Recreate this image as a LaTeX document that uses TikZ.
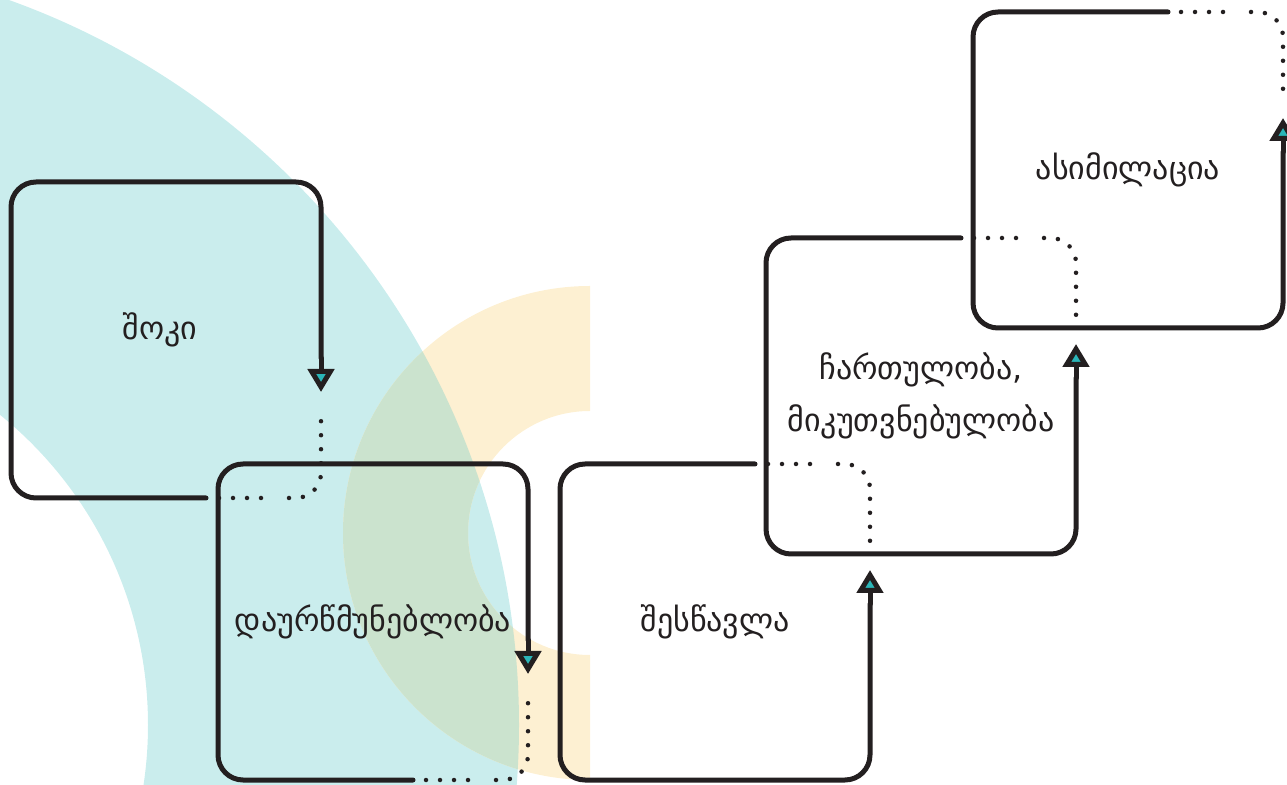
\documentclass[tikz,border=0pt]{standalone}
\usepackage{fontspec}
\newfontfamily\geofont{DejaVu Sans}
\usepackage{xcolor}
\definecolor{cInk}{HTML}{231F20}
\definecolor{cTeal}{HTML}{2BB5B8}
\definecolor{cMint}{HTML}{CAEDED}
\definecolor{cSand}{HTML}{FDF0D2}
\definecolor{cSage}{HTML}{CBE3CE}
\usepackage{tikz}
\usetikzlibrary{positioning,arrows.meta}
\tikzset{
  node-card/.style={minimum width=310pt,minimum height=316pt,inner sep=0pt,outer sep=0pt},
  node-text/.style={font=\geofont\fontsize{32}{52}\selectfont,text=cInk,align=center,inner sep=0pt},
  card-line/.style={line width=5pt,draw=cInk,line cap=round},
  card-edge/.style={card-line,rounded corners=25pt},
  % dotted corner: three dots, one left out, then a steady row
  card-dots/.style={line width=4.5pt,draw=cInk,rounded corners=25pt,line cap=round,
    dash pattern=on 0pt off 14pt on 0pt off 14pt on 0pt off 14pt on 0pt off 28pt
      on 0pt off 14pt on 0pt off 14pt on 0pt off 14pt on 0pt off 14pt on 0pt off 14pt
      on 0pt off 14pt on 0pt off 14pt on 0pt off 14pt on 0pt off 14pt on 0pt off 14pt},
  arrow/.style={-{Triangle[length=23pt,width=26pt,line width=5pt,fill=cTeal]}},
}

\begin{document}
\begin{tikzpicture}[x=1pt,y=1pt]
  \useasboundingbox (0,0) rectangle (1287,784);
  % background rings
  \begin{scope}
    \clip (0,0) rectangle (1287,784);
    \fill[cMint,even odd rule] (-251,59) circle[radius=770] (-251,59) circle[radius=399];
    \fill[cSand] (590,498) arc[start angle=90,end angle=270,radius=247] -- (590,129)
      arc[start angle=270,end angle=90,radius=122] -- cycle;
    \clip (-251,59) circle[radius=770];
    \fill[cSage] (590,498) arc[start angle=90,end angle=270,radius=247] -- (590,129)
      arc[start angle=270,end angle=90,radius=122] -- cycle;
  \end{scope}

  \node[node-card] (b1) at (166,444) {};
  \node[node-card] (b2) at (373,162) {};
  \node[node-card,right=32pt of b2] (b3) {};
  \node[node-card] (b4) at (921,388) {};
  \node[node-card] (b5) at (1128,614) {};

  \node[node-text] (t1) at ([shift={(-6,10)}]b1.center) {შოკი};
  \node[node-text] (t2) at (b2.center) {დაურწმუნებლობა};
  \node[node-text] (t3) at (b3.center) {შესწავლა};
  \node[node-text] (t4) at (b4.center) {ჩართულობა,\\მიკუთვნებულობა};
  \node[node-text] (t5) at (b5.center) {ასიმილაცია};

  \draw[card-edge] ([xshift=-115]b1.south east) -- (b1.south west) -- (b1.north west)
    -- (b1.north east) -- ([yshift=140]b1.south east);
  \draw[card-line,arrow] ([yshift=140]b1.south east) -- ([yshift=106]b1.south east);
  \draw[card-dots] ([xshift=-102]b1.south east) -- (b1.south east) -- ([yshift=90]b1.south east);

  \draw[card-edge] ([xshift=-115]b2.south east) -- (b2.south west) -- (b2.north west)
    -- (b2.north east) -- ([yshift=140]b2.south east);
  \draw[card-line,arrow] ([yshift=140]b2.south east) -- ([yshift=106]b2.south east);
  \draw[card-dots] ([xshift=-102]b2.south east) -- (b2.south east) -- ([yshift=90]b2.south east);

  \draw[card-edge] ([xshift=-115]b3.north east) -- (b3.north west) -- (b3.south west)
    -- (b3.south east) -- ([yshift=-140]b3.north east);
  \draw[card-line,arrow] ([yshift=-140]b3.north east) -- ([yshift=-106]b3.north east);
  \draw[card-dots] ([xshift=-102]b3.north east) -- (b3.north east) -- ([yshift=-90]b3.north east);

  \draw[card-edge] ([xshift=-115]b4.north east) -- (b4.north west) -- (b4.south west)
    -- (b4.south east) -- ([yshift=-140]b4.north east);
  \draw[card-line,arrow] ([yshift=-140]b4.north east) -- ([yshift=-106]b4.north east);
  \draw[card-dots] ([xshift=-102]b4.north east) -- (b4.north east) -- ([yshift=-90]b4.north east);

  \draw[card-edge] ([xshift=-115]b5.north east) -- (b5.north west) -- (b5.south west)
    -- (b5.south east) -- ([yshift=-140]b5.north east);
  \draw[card-line,arrow] ([yshift=-140]b5.north east) -- ([yshift=-106]b5.north east);
  \draw[card-dots] ([xshift=-102]b5.north east) -- (b5.north east) -- ([yshift=-90]b5.north east);
\end{tikzpicture}
\end{document}
